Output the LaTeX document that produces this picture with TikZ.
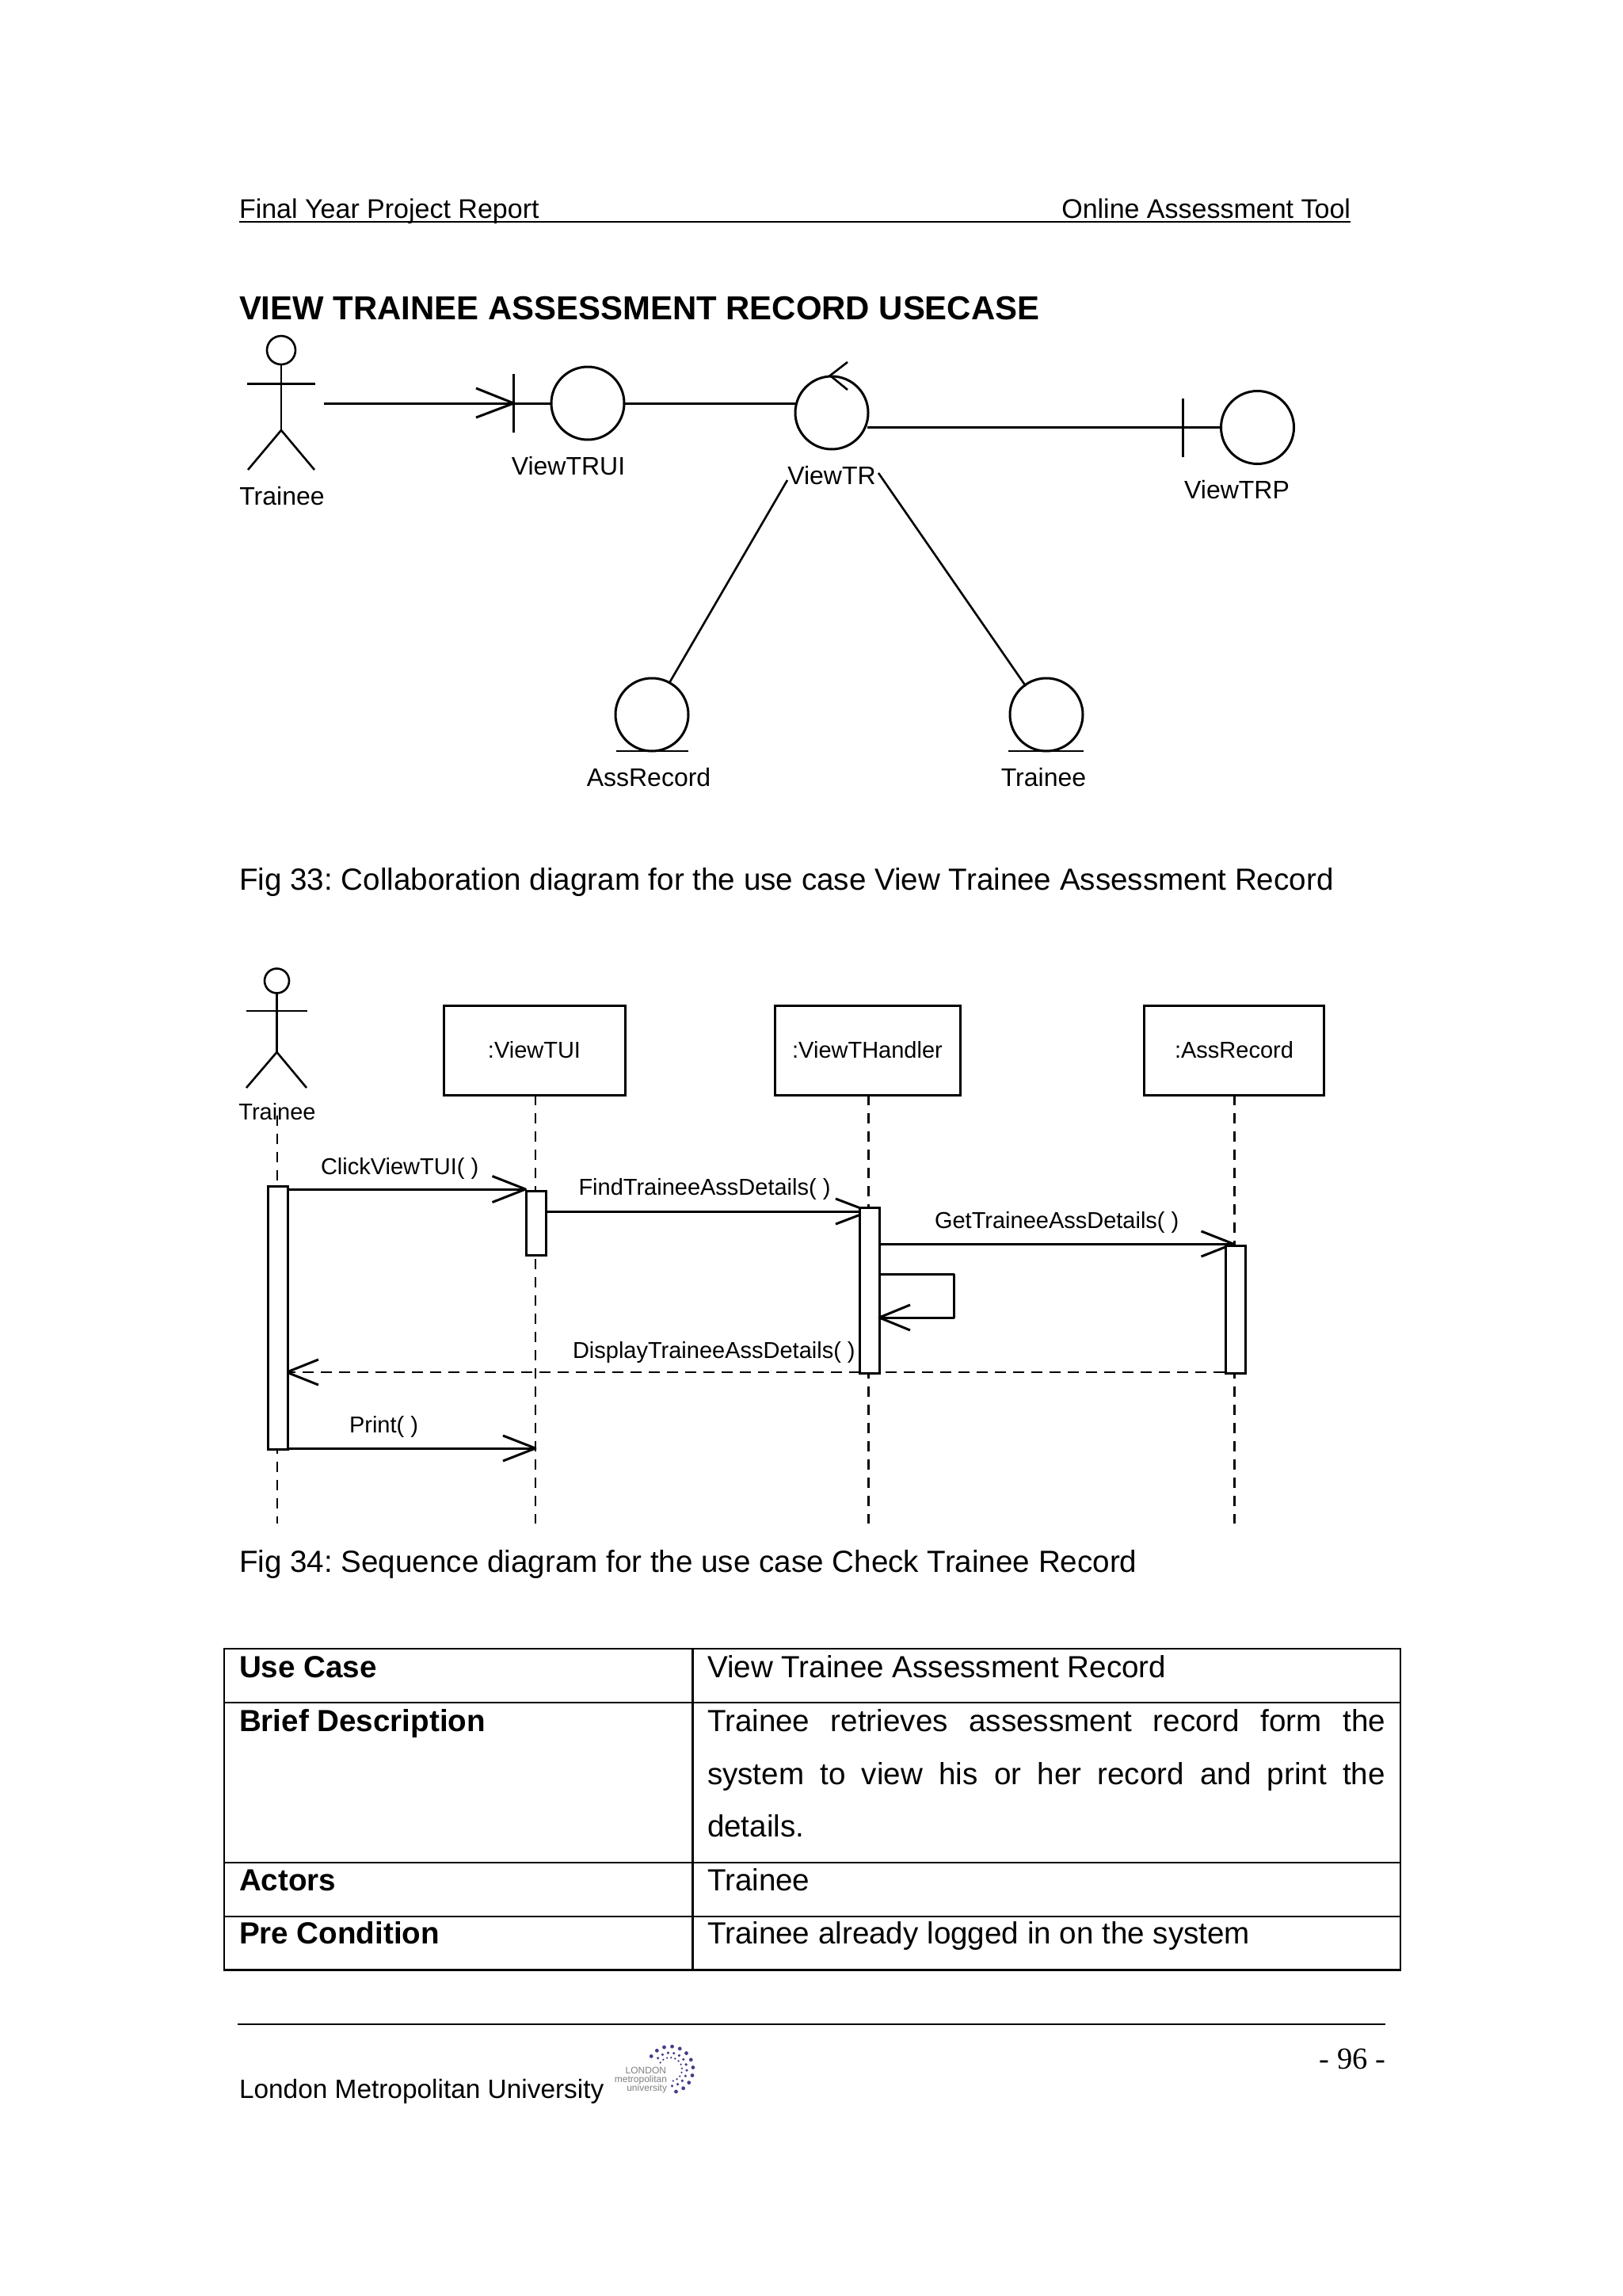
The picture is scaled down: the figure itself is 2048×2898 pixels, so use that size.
\documentclass[tikz,border=0pt]{standalone}
\usepackage{fontspec}
\usepackage{graphicx}
\setmainfont{Liberation Sans}
\newfontfamily\serifpage{Liberation Serif}
\usetikzlibrary{calc}
\definecolor{logodot}{HTML}{4B3A86}
\definecolor{logotxt}{HTML}{808080}
\frenchspacing
\tikzset{
  x=1pt,y=-1pt,
  umlline/.style={line width=3pt,black},
  thinline/.style={line width=2.6pt,black},
  lifeline/.style={line width=2.6pt,dash pattern=on 13pt off 10pt},
  msg/.style={line width=3pt,line join=round},
  retmsg/.style={line width=2.8pt,dash pattern=on 14pt off 9pt},
  rule/.style={line width=2.6pt},
  txt/.style={inner sep=0pt,outer sep=0pt,anchor=base west,font=\fontsize{38.6}{38.6}\selectfont},
  txtr/.style={txt,anchor=base east},
  hdr/.style={txt,font=\fontsize{34}{34}\selectfont},
  bold/.style={txt,font=\fontsize{38.6}{38.6}\selectfont\bfseries},
  lab/.style={inner sep=0pt,outer sep=0pt,anchor=base,font=\fontsize{32}{32}\selectfont},
  seqlab/.style={inner sep=0pt,outer sep=0pt,anchor=base west,font=\fontsize{29}{29}\selectfont},
  seqmid/.style={seqlab,anchor=base},
  objbox/.style={draw,line width=3pt,fill=white,inner sep=0pt,outer sep=0pt,anchor=north west},
  act/.style={draw,line width=3pt,fill=white,anchor=north west,inner sep=0pt,minimum width=24.5pt},
  circ/.style={draw,circle,line width=3pt,minimum size=92pt,inner sep=0pt,outer sep=0pt},
  logot/.style={inner sep=0pt,outer sep=0pt,anchor=base east,text=logotxt,font=\fontsize{12}{12}\selectfont},
}
\begin{document}
\begin{tikzpicture}
\useasboundingbox[fill=white] (0,0) rectangle (2048,2898);
% header
\node[hdr] (hl) at (302,275) {Final Year Project Report};
\node[hdr,anchor=base east] (hr) at (1705,275) {Online Assessment Tool};
\coordinate (hla) at (302,280); \coordinate (hlb) at (1705,280);
\draw[rule] (hla) -- (hlb);
\node[txt,font=\fontsize{41.9}{41.9}\selectfont\bfseries] (title) at (302,403) {VIEW TRAINEE ASSESSMENT RECORD USECASE};
% collaboration actor
\node[draw,circle,line width=2.6pt,minimum size=36pt,inner sep=0pt,outer sep=0pt] (a1h) at (355,442) {};
\coordinate (a1hip) at (355,543);
\coordinate (a1al) at (312,484); \coordinate (a1ar) at (398,484);
\coordinate (a1ll) at (313,593); \coordinate (a1lr) at (397,593);
\draw[thinline] (a1h.south) -- (a1hip);
\draw[umlline] (a1al) -- (a1ar);
\draw[thinline] (a1ll) -- (a1hip) -- (a1lr);
\node[lab] (a1l) at (356,637) {Trainee};
% boundary ViewTRUI
\node[circ] (b1) at (742,509) {};
\coordinate (b1t) at (648.5,472); \coordinate (b1b) at (648.5,546); \coordinate (b1m) at (648.5,509);
\draw[thinline] (b1t) -- (b1b);
\draw[umlline] (b1m) -- (b1.west);
\node[lab] (b1l) at (717.5,599) {ViewTRUI};
\coordinate (a1out) at (409,509);
\coordinate (hb1) at (601,490); \coordinate (hb2) at (601,527);
\draw[umlline] (a1out) -- (b1m);
\draw[umlline,line join=round] (hb1) -- (b1m) -- (hb2);
% control ViewTR
\node[circ] (c1) at (1050,521) {};
\coordinate (c1tip) at (1048,474); \coordinate (c1u) at (1070,457); \coordinate (c1d) at (1070,492);
\draw[thinline] (c1u) -- (c1tip) -- (c1d);
\node[lab] (c1l) at (1050,611) {ViewTR};
\draw[umlline] (b1.east) -- (c1.west |- b1.east);
% boundary ViewTRP
\node[circ] (b2) at (1587.5,539.5) {};
\coordinate (b2t) at (1493.5,503); \coordinate (b2b) at (1493.5,577); \coordinate (b2m) at (1493.5,539.5);
\coordinate (c1e) at (1095,539.5);
\draw[thinline] (b2t) -- (b2b);
\draw[umlline] (c1e) -- (b2.west);
\node[lab] (b2l) at (1561.5,629) {ViewTRP};
% entities
\node[circ] (e1) at (823,902) {};
\coordinate (e1a) at (778,948); \coordinate (e1b) at (869,948);
\draw[thinline] (e1a) -- (e1b);
\node[lab] (e1l) at (819,992) {AssRecord};
\node[circ] (e2) at (1321,902) {};
\coordinate (e2a) at (1273,948); \coordinate (e2b) at (1368,948);
\draw[thinline] (e2a) -- (e2b);
\node[lab] (e2l) at (1317.5,992) {Trainee};
\coordinate (c1la) at (994,606); \coordinate (c1ra) at (1109,597);
\coordinate (e1c) at (845,862); \coordinate (e2c) at (1295,866);
\draw[thinline] (c1la) -- (e1c);
\draw[thinline] (c1ra) -- (e2c);
% captions
\node[txt] (f33) at (302,1123.5) {Fig 33: Collaboration diagram for the use case View Trainee Assessment Record};
\node[txt] (f34) at (302,1984.5) {Fig 34: Sequence diagram for the use case Check Trainee Record};
% sequence actor
\node[draw,circle,line width=2.6pt,minimum size=31pt,inner sep=0pt,outer sep=0pt] (a2h) at (349.5,1238) {};
\coordinate (a2hip) at (349.5,1328);
\coordinate (a2al) at (311,1276); \coordinate (a2ar) at (388,1276);
\coordinate (a2ll) at (311,1373); \coordinate (a2lr) at (387,1373);
\draw[thinline] (a2h.south) -- (a2hip);
\draw[thinline] (a2al) -- (a2ar);
\draw[thinline] (a2ll) -- (a2hip) -- (a2lr);
\node[seqmid] (a2l) at (350,1413) {Trainee};
% object boxes
\node[objbox,minimum width=228.5pt,minimum height=113pt] (o1) at (560.5,1269) {};
\node[objbox,minimum width=234pt,minimum height=113pt] (o2) at (978.5,1269) {};
\node[objbox,minimum width=227.5pt,minimum height=113pt] (o3) at (1444,1269) {};
\node[seqmid] at (674.5,1335) {:ViewTUI};
\node[seqmid] at (1095,1335) {:ViewTHandler};
\node[seqmid] at (1558,1335) {:AssRecord};
% lifelines
\coordinate (l0a) at (350,1408); \coordinate (l0b) at (350,1923);
\coordinate (l1a) at (676,1382); \coordinate (l1b) at (676,1923);
\coordinate (l2a) at (1096.5,1382); \coordinate (l2b) at (1096.5,1923);
\coordinate (l3a) at (1558.5,1382); \coordinate (l3b) at (1558.5,1923);
\draw[lifeline] (l0a) -- (l0b);
\draw[lifeline] (l1a) -- (l1b);
\draw[lifeline] (l2a) -- (l2b);
\draw[lifeline] (l3a) -- (l3b);
% messages
\coordinate (m1a) at (362,1501); \coordinate (m1t) at (663.5,1501);
\draw[msg] (m1a) -- (m1t);
\draw[msg] (621.5,1484.5) -- (m1t) -- (621.5,1517.5);
\coordinate (m2a) at (688,1529); \coordinate (m2t) at (1097,1529);
\draw[msg] (m2a) -- (m2t);
\draw[msg] (1055,1513) -- (m2t) -- (1055,1545);
\coordinate (m3a) at (1108.5,1570); \coordinate (m3t) at (1557,1570);
\draw[msg] (m3a) -- (m3t);
\draw[msg] (1516.5,1554) -- (m3t) -- (1516.5,1586);
\coordinate (m4a) at (1546,1732); \coordinate (m4t) at (362,1732);
\draw[retmsg] (m4a) -- (m4t);
\draw[msg] (402,1716) -- (m4t) -- (402,1748);
\coordinate (m5a) at (362,1828); \coordinate (m5t) at (676,1828);
\draw[msg] (m5a) -- (m5t);
\draw[msg] (635,1812) -- (m5t) -- (635,1844);
% activations
\node[act,minimum height=332pt] (act0) at (337,1496) {};
\node[act,minimum height=81.5pt] (act1) at (663,1501.5) {};
\node[act,minimum height=209pt] (act2) at (1084,1523) {};
\node[act,minimum height=161pt] (act3) at (1546,1571) {};
% self message
\coordinate (s1) at (1108.5,1608); \coordinate (s2) at (1204.5,1608);
\coordinate (s3) at (1204.5,1663); \coordinate (s4) at (1110,1663);
\draw[msg] (s1) -- (s2) -- (s3) -- (s4);
\draw[msg] (1149,1647) -- (s4) -- (1149,1679);
% message labels
\node[seqlab] at (405,1482) {ClickViewTUI( )};
\node[seqlab] at (730.5,1508) {FindTraineeAssDetails( )};
\node[seqlab] at (1180,1550) {GetTraineeAssDetails( )};
\node[seqlab] at (723,1714) {DisplayTraineeAssDetails( )};
\node[seqlab] at (441,1808) {Print( )};
% table
\coordinate (t00) at (283,2081); \coordinate (t11) at (1768,2486.5);
\draw[rule] (t00) rectangle (t11);
\coordinate (tv1) at (874.5,2081); \coordinate (tv2) at (874.5,2486.5);
\draw[rule] (tv1) -- (tv2);
\foreach \yy/\nm in {2149/a,2351/b,2419/c}{
  \coordinate (th\nm l) at (283,\yy); \coordinate (th\nm r) at (1768,\yy);
  \draw[rule] (th\nm l) -- (th\nm r);
}
\node[bold] at (302,2117.5) {Use Case};
\node[bold] at (302,2185.5) {Brief Description};
\node[bold] at (302,2386.5) {Actors};
\node[bold] at (302,2453.5) {Pre Condition};
\node[txt] at (893,2117.5) {View Trainee Assessment Record};
\node[txt] at (893,2185.5) {\makebox[856pt][s]{Trainee retrieves assessment record form the}};
\node[txt] at (893,2252.5) {\makebox[856pt][s]{system to view his or her record and print the}};
\node[txt] at (893,2318.5) {details.};
\node[txt] at (893,2386.5) {Trainee};
\node[txt] at (893,2453.5) {Trainee already logged in on the system};
% footer
\coordinate (fa) at (300,2555); \coordinate (fb) at (1749,2555);
\draw[rule] (fa) -- (fb);
\node[hdr,font=\fontsize{33.4}{33.4}\selectfont] at (302,2648) {London Metropolitan University};
\node[txtr,font=\fontsize{38.5}{38.5}\serifpage] at (1749,2611) {- 96 -};
% logo
\node[logot] at (841,2617) {LONDON};
\node[logot] at (842,2628) {metropolitan};
\node[logot] at (842,2639) {university};
\foreach \ang in {75,55,35,15,-5,-25,-45,-65,-85,-105,-125,-145}{
  \fill[logodot] ($(846,2612)+(\ang:29)$) circle (2.4);
  \fill[logodot] ($(846,2612)+(\ang+8:21)$) circle (1.8);
  \fill[logodot] ($(846,2612)+(\ang:15)$) circle (1.3);
}
\end{tikzpicture}
\end{document}
